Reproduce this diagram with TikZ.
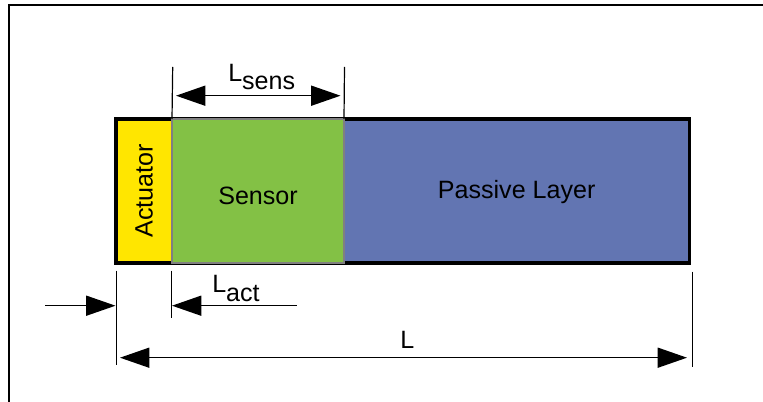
\documentclass[tikz,border=0pt]{standalone}
\usepackage{fontspec}
\setmainfont{Liberation Sans}
\usetikzlibrary{arrows.meta, positioning}

\definecolor{actyellow}{RGB}{255,230,0}
\definecolor{sensgreen}{RGB}{131,193,69}
\definecolor{passblue}{RGB}{98,117,178}
\definecolor{sensgray}{RGB}{128,128,128}

\tikzset{
  layer/.style={inner sep=0pt, outer sep=0pt, minimum height=108pt, anchor=north west,
    font=\fontsize{18.8}{22}\selectfont},
  extline/.style={line width=0.9pt},
  dimarrow/.style={line width=1.1pt, -{Triangle[length=22pt, width=15pt]}},
  dimboth/.style={line width=1.1pt, {Triangle[length=22pt, width=15pt]}-{Triangle[length=22pt, width=15pt]}},
  dimlabel/.style={font=\fontsize{18.8}{22}\selectfont, inner sep=0pt, anchor=base west}
}

\begin{document}
\begin{tikzpicture}[x=0.75pt, y=-0.75pt]
  \useasboundingbox (0,0) rectangle (763,402);
  % Frame
  \draw[line width=1.5pt] (8.5,402) -- (8.5,5.5) -- (763,5.5);
  % Layers
  \node[layer, fill=actyellow, minimum width=42pt] (act) at (116,119) {};
  \node[rotate=90, font=\fontsize{18.8}{22}\selectfont] (actlabel) at (act.center) {Actuator};
  \node[layer, fill=passblue, minimum width=259pt, text height=15pt] (pass) at ([xshift=129pt]act.north east) {Passive Layer};
  \draw[line width=2.6pt] (act.north west) rectangle (pass.south east);
  \node[layer, fill=sensgreen, draw=sensgray, line width=1.5pt, minimum width=129pt, text height=21pt] (sens) at (act.north east) {Sensor};
  % L_sens
  \coordinate (ls1) at (172.7,67);
  \coordinate (ls2) at (344.5,67);
  \coordinate (lsa) at (176,95.7);
  \coordinate (lsb) at (340.5,95.7);
  \draw[extline] (sens.north west) -- (ls1);
  \draw[extline] (sens.north east) -- (ls2);
  \draw[dimboth] (lsa) -- (lsb);
  \node[dimlabel] (lsens) at (228,82) {L\raisebox{-6pt}{sens}};
  % L_act
  \coordinate (la1) at (116.7,270.7);
  \coordinate (la2) at (116.7,365);
  \coordinate (la3) at (171.5,270.7);
  \coordinate (la4) at (171.5,318);
  \coordinate (laL) at (45,305.7);
  \coordinate (laLt) at (115.5,305.7);
  \coordinate (laR) at (296.7,305.7);
  \coordinate (laRt) at (172,305.7);
  \draw[extline] (la1) -- (la2);
  \draw[extline] (la3) -- (la4);
  \draw[dimarrow] (laL) -- (laLt);
  \draw[dimarrow] (laR) -- (laRt);
  \node[dimlabel] (lact) at (212,293) {L\raisebox{-6.5pt}{act}};
  % L
  \coordinate (lt1) at (692.7,271.7);
  \coordinate (lt2) at (692.7,366.7);
  \coordinate (lta) at (120,357.7);
  \coordinate (ltb) at (687,357.7);
  \draw[extline] (lt1) -- (lt2);
  \draw[dimboth] (lta) -- (ltb);
  \node[dimlabel] (ltot) at (400,349) {L};
\end{tikzpicture}
\end{document}
